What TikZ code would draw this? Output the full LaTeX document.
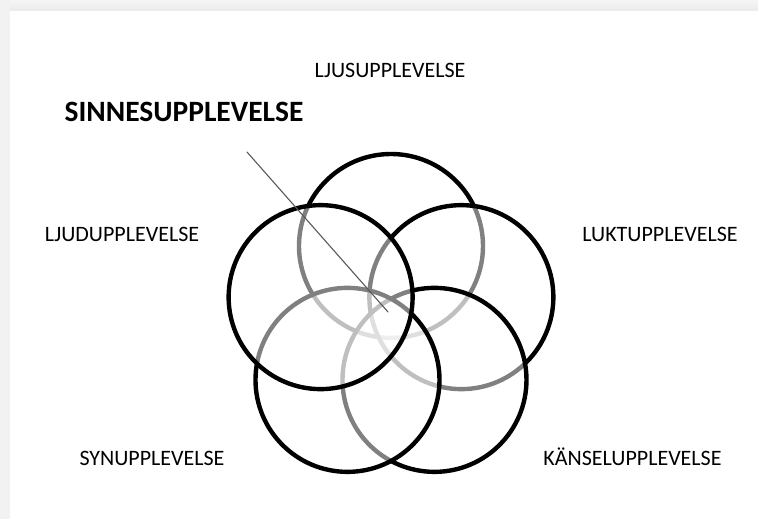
\documentclass[tikz,border=0pt]{standalone}
\usepackage{fontspec}
\setmainfont{Carlito}
\begin{document}
\begin{tikzpicture}[x=1pt, y=1pt, line join=round, line cap=round,
		ring/.style={circle, draw=black, line width=4.4pt, fill=white, fill opacity=0.5, minimum size=184pt, inner sep=0pt},
		etikett/.style={anchor=base, inner sep=0pt, font=\fontsize{22}{26}\selectfont},
		rubrik/.style={anchor=base, inner sep=0pt, font=\fontsize{29.5}{34}\selectfont\bfseries}]
				% Konstanter
				\def\R{74}   
				
				% Bakgrund med skugga
				\fill[black!5] (-391,320) rectangle (367,-199);
				\shade[top color=black!4, bottom color=black!8] (-381,320) rectangle (367,309);
				\fill[white] (-381,309) rectangle (367,-199);
				\useasboundingbox (-391,320) rectangle (367,-199);
				
				% Fem ringar, ritade medurs fr\aa n toppen
				\foreach \namn/\vinkel in {ljus/90, lukt/18, kansel/-54, syn/-126, ljud/162}
					\node[ring] (\namn) at (\vinkel:\R) {};
				
				% Etiketter
				\node[etikett] (tljus) at (-1,242) {LJUSUPPLEVELSE};
				\node[etikett] (tljud) at (-269,78) {LJUDUPPLEVELSE};
				\node[etikett] (tlukt) at (269,78) {LUKTUPPLEVELSE};
				\node[etikett] (tsyn) at (-239,-146) {SYNUPPLEVELSE};
				\node[etikett] (tkansel) at (241.5,-146) {KÄNSELUPPLEVELSE};
				\node[rubrik] (tsinne) at (-207,198) {SINNESUPPLEVELSE};
				
				% Pil mot mitten
				\coordinate (start) at (-144,168);
				\coordinate (mitt) at (-3,8);
				\draw[black!65, line width=1.1pt] (start) -- (mitt);
		\end{tikzpicture}
\end{document}
